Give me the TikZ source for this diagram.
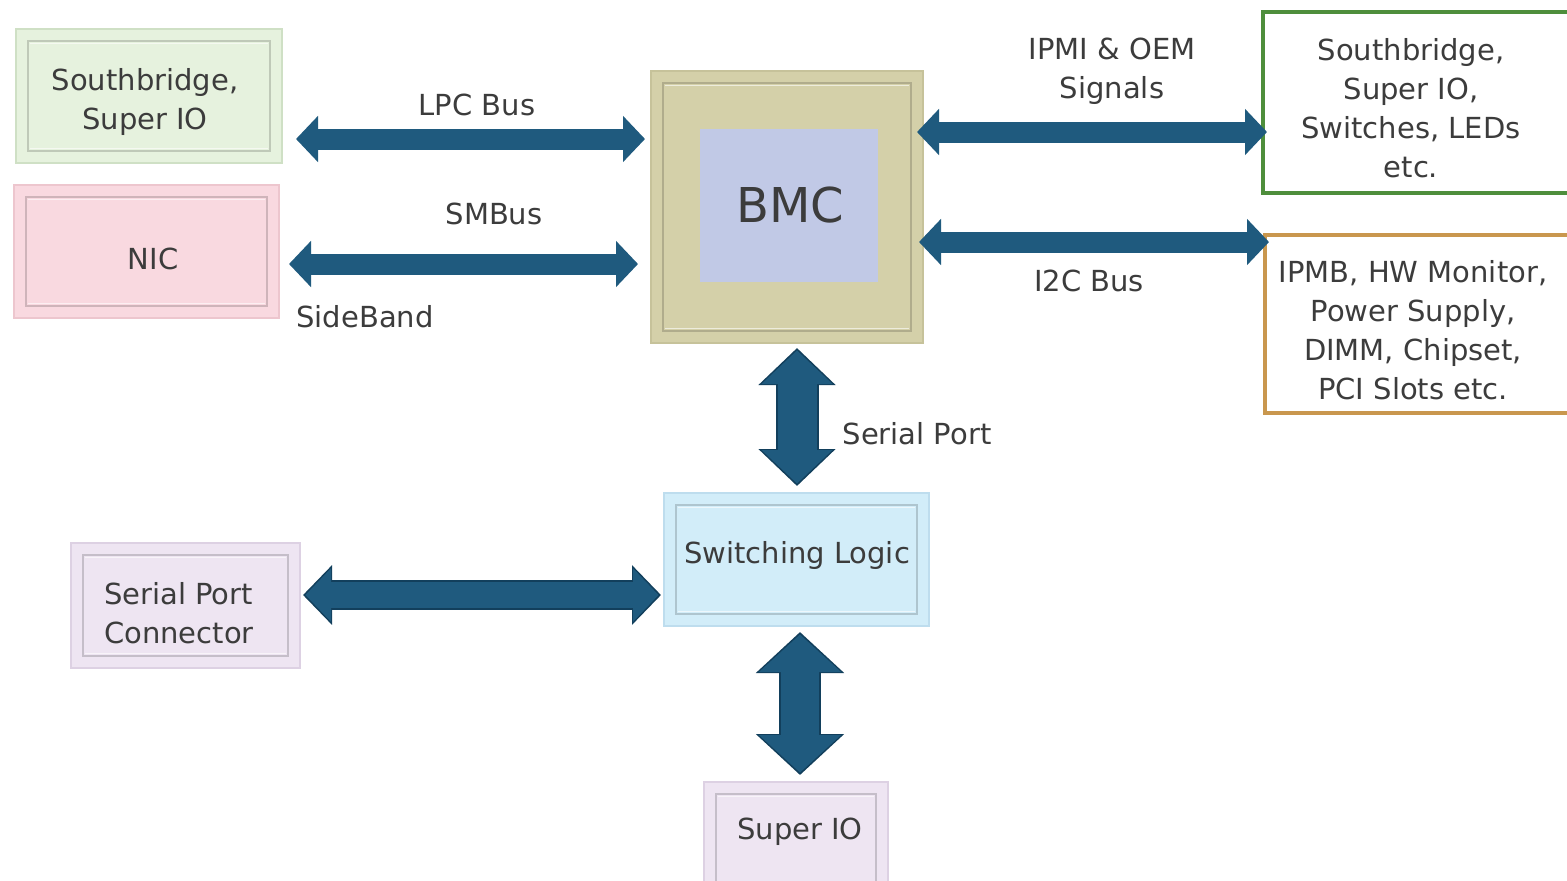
\documentclass[tikz,border=0pt]{standalone}
\usepackage{fontspec}
\setmainfont{DejaVu Sans}
\usetikzlibrary{arrows.meta,calc,fit}
\definecolor{txt}{HTML}{3C3C3C}
\definecolor{arr}{HTML}{1F5A7E}
\definecolor{arrdark}{HTML}{123F5C}
\definecolor{sbfill}{HTML}{E6F2DE}
\definecolor{sbline}{HTML}{CFE0C5}
\definecolor{nicfill}{HTML}{F9D9E0}
\definecolor{nicline}{HTML}{EDC6CE}
\definecolor{bmcfill}{HTML}{D4D0A9}
\definecolor{bmcline}{HTML}{C6C29A}
\definecolor{corefill}{HTML}{C1C9E6}
\definecolor{swfill}{HTML}{D2EDF9}
\definecolor{swline}{HTML}{BEDDEE}
\definecolor{lavfill}{HTML}{EEE5F2}
\definecolor{lavline}{HTML}{DDD1E3}
\definecolor{gborder}{HTML}{4E8E3C}
\definecolor{oborder}{HTML}{C9974E}
\newcommand{\mybevel}[1]{%
  \draw[bevdark] ($(#1.north west)+(12,12)$) rectangle ($(#1.south east)+(-12,-12)$);
  \draw[bevlight] ($(#1.north west)+(14,14.5)$) -- ($(#1.north east)+(-14,14.5)$);
  \draw[bevlight] ($(#1.south west)+(14,-14.5)$) -- ($(#1.south east)+(-14,-14.5)$);
}
\begin{document}
\begin{tikzpicture}[x=0.5pt,y=-0.5pt,
  box/.style={inner sep=0pt, outer sep=0pt, line width=0.75pt},
  lab/.style={text=txt, font=\fontsize{14.5pt}{19.5pt}\selectfont, align=center, inner sep=0pt},
  bevdark/.style={draw=black, draw opacity=0.17, line width=0.9pt},
  bevlight/.style={draw=white, draw opacity=0.6, line width=0.7pt},
  bus/.style={draw=arr, line width=10.5pt, {Triangle[length=11pt,width=22.5pt]}-{Triangle[length=11pt,width=22.5pt]}}
]
\useasboundingbox[fill=white] (0,0) rectangle (1567,880);

% boxes
\node[box, fill=sbfill, draw=sbline, fit={(16,29)(282,163)}] (sb) {};
\node[box, fill=nicfill, draw=nicline, fit={(14,185)(279,318)}] (nic) {};
\node[box, fill=bmcfill, draw=bmcline, fit={(651,71)(923,343)}] (bmc) {};
\node[box, fill=swfill, draw=swline, fit={(664,493)(929,626)}] (sw) {};
\node[box, fill=lavfill, draw=lavline, fit={(71,543)(300,668)}] (spc) {};
\node[box, fill=lavfill, draw=lavline, fit={(704,782)(888,905)}] (sio) {};
\foreach \n in {sb,nic,bmc,sw,spc,sio} {\mybevel{\n}}
\node[box, fill=corefill, fit={(700,129)(878,282)}] (core) {};
\node[box, fill=white, draw=gborder, line width=2pt, fit={(1263,12)(1600,193)}] (rg) {};
\node[box, fill=white, draw=oborder, line width=2pt, fit={(1265,235)(1600,413)}] (ro) {};

% box texts
\node[lab] (sbt) at (145,102) {Southbridge,\\Super IO};
\node[lab] (nict) at (153,259) {NIC};
\node[lab, font=\fontsize{24pt}{28pt}\selectfont] (coret) at (790,205) {BMC};
\node[lab] (swt) at (797,555) {Switching Logic};
\node[lab, align=left] (spct) at (179,613) {Serial Port\\Connector};
\node[lab] (siot) at (800,832) {Super IO};
\node[lab] (rgt) at (1411,108) {Southbridge,\\Super IO,\\Switches, LEDs\\etc.};
\node[lab] (rot) at (1413,330) {IPMB, HW Monitor,\\Power Supply,\\DIMM, Chipset,\\PCI Slots etc.};

% thin bus arrows
\draw[bus] ($(sb.east)+(14,43)$) -- ($(bmc.west)+(-6,-68)$);
\draw[bus] ($(nic.east)+(10,12.5)$) -- ($(bmc.west)+(-13,57)$);
\draw[bus] ($(bmc.east)+(-6,-75)$) -- ($(rg.west)+(4,29.5)$);
\draw[bus] ($(bmc.east)+(-4,35)$) -- ($(ro.west)+(4,-82)$);

% outlined arrows
\draw[draw=arrdark, line width=21.5pt, {Triangle[length=18.5pt,width=37.5pt]}-{Triangle[length=18.5pt,width=37.5pt]}]
  ($(bmc.south)+(10,5)$) -- ($(sw.north)+(0.5,-7)$);
\draw[draw=arr, line width=19.5pt, shorten <=1.2pt, shorten >=1.2pt, {Triangle[length=16.8pt,width=34.5pt]}-{Triangle[length=16.8pt,width=34.5pt]}]
  ($(bmc.south)+(10,5)$) -- ($(sw.north)+(0.5,-7)$);

\draw[draw=arrdark, line width=15pt, {Triangle[length=14.5pt,width=29pt]}-{Triangle[length=14.5pt,width=29pt]}]
  ($(spc.east)+(3,-10.5)$) -- ($(sw.west)+(-3,35.5)$);
\draw[draw=arr, line width=13pt, shorten <=1.2pt, shorten >=1.2pt, {Triangle[length=12.8pt,width=26pt]}-{Triangle[length=12.8pt,width=26pt]}]
  ($(spc.east)+(3,-10.5)$) -- ($(sw.west)+(-3,35.5)$);

\draw[draw=arrdark, line width=21pt, {Triangle[length=20.5pt,width=43pt]}-{Triangle[length=20.5pt,width=43pt]}]
  ($(sw.south)+(3.5,6)$) -- ($(sio.north)+(4,-7)$);
\draw[draw=arr, line width=19pt, shorten <=1.2pt, shorten >=1.2pt, {Triangle[length=18.8pt,width=40pt]}-{Triangle[length=18.8pt,width=40pt]}]
  ($(sw.south)+(3.5,6)$) -- ($(sio.north)+(4,-7)$);

% labels
\node[lab] (lpc) at (477,105) {LPC Bus};
\node[lab] (smb) at (494,214) {SMBus};
\node[lab] (sideb) at (365,317) {SideBand};
\node[lab] (ipmi) at (1112,71) {IPMI \& OEM\\Signals};
\node[lab] (i2c) at (1089,281) {I2C Bus};
\node[lab] (serl) at (917,434) {Serial Port};
\end{tikzpicture}
\end{document}
